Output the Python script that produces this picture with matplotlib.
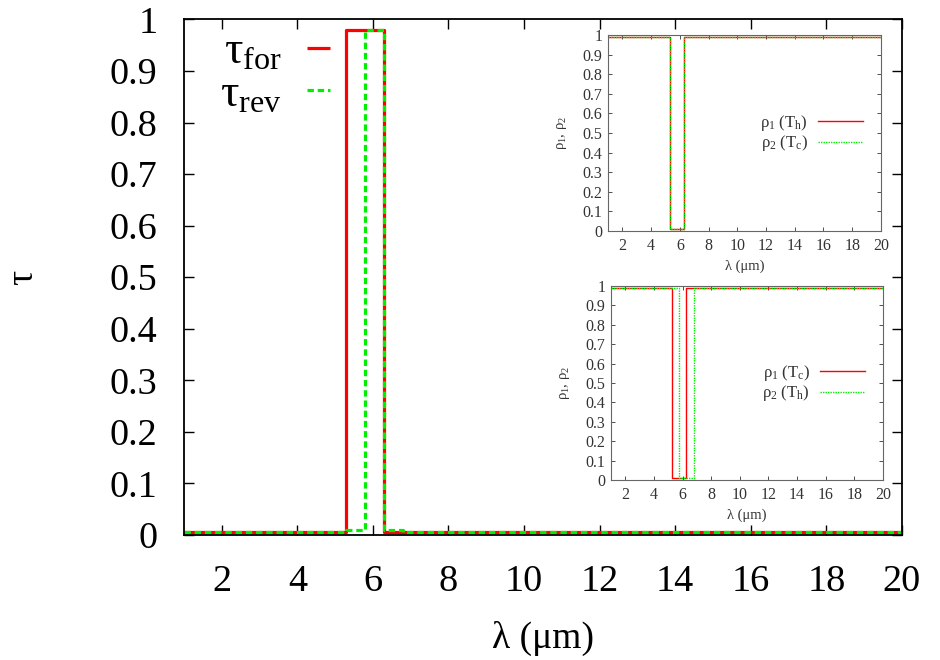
import matplotlib
matplotlib.use("Agg")
import matplotlib.pyplot as plt
import numpy as np

plt.rcParams['font.family'] = ['Liberation Serif', 'DejaVu Serif']
plt.rcParams['mathtext.fontset'] = 'custom'
plt.rcParams['mathtext.rm'] = 'Liberation Serif'
plt.rcParams['mathtext.it'] = 'Liberation Serif:italic'

# ---- data (step breakpoints, wavelength in um) ----
lam_for = [1.0, 5.3, 6.3, 6.6, 20.0]
tau_for = [0.005, 0.98, 0.006, 0.005, 0.005]
lam_rev = [1.0, 5.3, 5.8, 6.3, 6.8, 20.0]
tau_rev = [0.005, 0.009, 0.98, 0.009, 0.005, 0.005]

# inset 1: rho1(Th), rho2(Tc)
lam_i1_r1 = [1.0, 5.3, 6.3, 20.0]
rho_i1_r1 = [0.99, 0.01, 0.99, 0.99]
lam_i1_r2 = [1.0, 5.3, 6.3, 20.0]
rho_i1_r2 = [0.99, 0.01, 0.99, 0.99]
# inset 2: rho1(Tc), rho2(Th)
lam_i2_r1 = [1.0, 5.26, 6.24, 20.0]
rho_i2_r1 = [0.99, 0.01, 0.99, 0.99]
lam_i2_r2 = [1.0, 5.75, 6.8, 20.0]
rho_i2_r2 = [0.99, 0.01, 0.99, 0.99]

xticks = [2, 4, 6, 8, 10, 12, 14, 16, 18, 20]
yticks = [0, 0.1, 0.2, 0.3, 0.4, 0.5, 0.6, 0.7, 0.8, 0.9, 1]
ytick_labels = ['0', '0.1', '0.2', '0.3', '0.4', '0.5', '0.6', '0.7', '0.8', '0.9', '1']

RED = '#ff0000'
GREEN = '#00ee00'

fig = plt.figure(figsize=(9.4, 6.6), dpi=100)
ax = fig.add_axes([0.1957, 0.1894, 0.7638, 0.7811])

ax.plot(lam_for, tau_for, drawstyle='steps-post', color=RED, lw=2.3,
        label='τ$_{\\rm for}$', solid_capstyle='butt')
ax.plot(lam_rev, tau_rev, drawstyle='steps-post', color=GREEN, lw=2.3,
        linestyle=(0, (2, 1.2)), label='τ$_{\\rm rev}$')
ax.set_xlim(1, 20)
ax.set_ylim(0, 1)
ax.set_xticks(xticks)
ax.set_yticks(yticks)
ax.set_yticklabels(ytick_labels)
ax.tick_params(direction='in', length=7, width=1, top=True, right=True,
               labelsize=27.5)
ax.tick_params(axis='y', pad=19)
ax.tick_params(axis='x', pad=21)
for s in ax.spines.values():
    s.set_linewidth(1.3)
ax.set_xlabel('λ (μm)', fontsize=27, labelpad=16)
ax.set_ylabel('τ', fontsize=27, labelpad=50)

leg = ax.legend(loc='upper right', bbox_to_anchor=(0.203, 0.977), frameon=False,
                fontsize=33, markerfirst=False, handlelength=0.5,
                handletextpad=0.55, labelspacing=0.0, borderpad=0.0,
                borderaxespad=0.0)


def make_inset(rect, xa, ya, xb, yb, lab_a, lab_b, legy):
    ia = fig.add_axes(rect)
    ia.set_facecolor('white')
    ia.plot(xa, ya, drawstyle='steps-post', color=RED, lw=1.0, label=lab_a)
    ia.plot(xb, yb, drawstyle='steps-post', color=GREEN, lw=1.0,
            linestyle=(0, (1, 0.8)), label=lab_b)
    ia.set_xlim(1, 20)
    ia.set_ylim(0, 1)
    ia.set_xticks(xticks)
    ia.set_yticks(yticks)
    ia.set_yticklabels(ytick_labels)
    ia.tick_params(direction='in', length=3, width=0.6, top=True, right=True,
                   labelsize=11.5, colors='#333333', pad=4)
    ia.tick_params(axis='x', pad=5)
    for s in ia.spines.values():
        s.set_linewidth(0.8)
        s.set_edgecolor('#666666')
    ia.set_xlabel('λ (μm)', fontsize=10.5, labelpad=4, color='#333333')
    ia.set_ylabel('ρ$_1$, ρ$_2$', fontsize=10.5, labelpad=10, color='#333333')
    ia.legend(loc='center right', bbox_to_anchor=(0.934, legy), frameon=False,
              fontsize=12, markerfirst=False, handlelength=2.7,
              handletextpad=0.6, labelspacing=0.05, borderpad=0.0,
              borderaxespad=0.0, labelcolor='#333333')
    return ia


make_inset([0.6468, 0.65, 0.2904, 0.297], lam_i1_r1, rho_i1_r1,
           lam_i1_r2, rho_i1_r2, 'ρ$_1$ (T$_{\\rm h}$)', 'ρ$_2$ (T$_{\\rm c}$)', 0.5)
make_inset([0.65, 0.2727, 0.2894, 0.2939], lam_i2_r1, rho_i2_r1,
           lam_i2_r2, rho_i2_r2, 'ρ$_1$ (T$_{\\rm c}$)', 'ρ$_2$ (T$_{\\rm h}$)', 0.5)

fig.savefig('out.png', dpi=100)
